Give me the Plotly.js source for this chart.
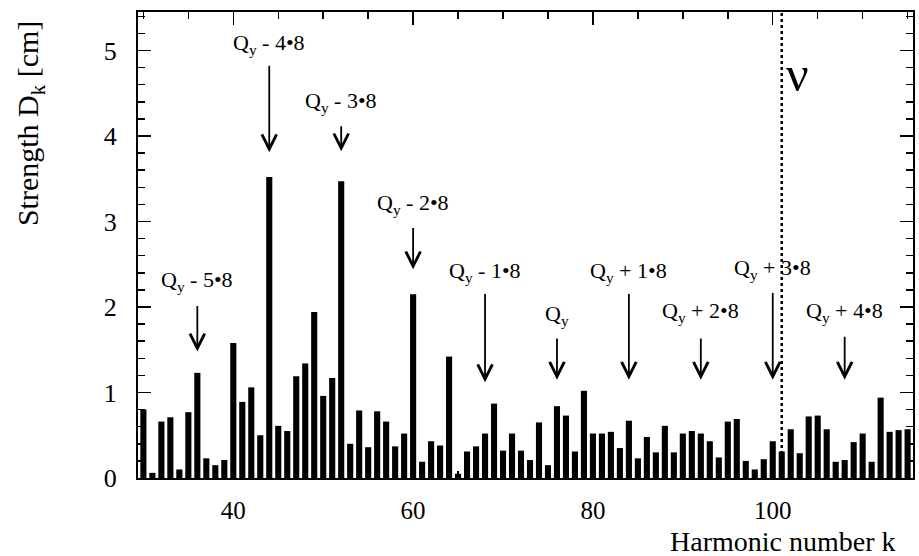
<!DOCTYPE html>
<html>
<head>
<meta charset="utf-8">
<script src="https://cdn.plot.ly/plotly-3.0.1.min.js"></script>
<style>html,body{margin:0;padding:0;background:#fff;}#chart{width:919px;height:556px;}</style>
</head>
<body>
<div id="chart"></div>
<script>
// Harmonic numbers k and strengths D_k [cm]
const harmonicK = [30,31,32,33,34,35,36,37,38,39,40,41,42,43,44,45,46,47,48,49,
  50,51,52,53,54,55,56,57,58,59,60,61,62,63,64,65,66,67,68,69,
  70,71,72,73,74,75,76,77,78,79,80,81,82,83,84,85,86,87,88,89,
  90,91,92,93,94,95,96,97,98,99,100,101,102,103,104,105,106,107,108,109,
  110,111,112,113,114,115];
const strength = [0.80,0.06,0.66,0.71,0.10,0.77,1.23,0.23,0.15,0.21,
  1.58,0.89,1.06,0.50,3.52,0.61,0.55,1.19,1.34,1.94,
  0.96,1.17,3.47,0.40,0.79,0.36,0.78,0.66,0.37,0.52,
  2.15,0.19,0.43,0.38,1.42,0.05,0.31,0.37,0.52,0.87,
  0.32,0.52,0.32,0.21,0.65,0.15,0.84,0.73,0.31,1.02,
  0.52,0.52,0.54,0.35,0.67,0.23,0.48,0.30,0.61,0.30,
  0.52,0.55,0.52,0.43,0.24,0.66,0.69,0.20,0.10,0.22,
  0.43,0.31,0.57,0.29,0.72,0.73,0.57,0.19,0.21,0.42,
  0.52,0.19,0.94,0.54,0.56,0.57];

// Resonance labels (Q_y ± n·8) and their harmonic numbers
const resonanceLabels = ['Q<sub>y</sub> - 5•8','Q<sub>y</sub> - 4•8','Q<sub>y</sub> - 3•8','Q<sub>y</sub> - 2•8',
  'Q<sub>y</sub> - 1•8','Q<sub>y</sub>','Q<sub>y</sub> + 1•8','Q<sub>y</sub> + 2•8','Q<sub>y</sub> + 3•8','Q<sub>y</sub> + 4•8'];
const resonanceK = [36,44,52,60,68,76,84,92,100,108];
const nuK = 101;
const tickVals = [40,60,80,100];

// annotation placement (layout only): [label y, arrow tail y, arrow tip y]
const place = [[2.30,2.03,1.48],[5.07,4.84,3.81],[4.40,4.13,3.82],[3.20,2.94,2.44],
  [2.41,2.17,1.12],[1.91,1.65,1.15],[2.41,2.17,1.15],[1.94,1.65,1.15],[2.44,2.18,1.15],[1.94,1.67,1.15]];

const FONT = 'Liberation Serif';
const annotations = [];
resonanceK.forEach((k,i)=>{
  annotations.push({x:k, y:place[i][0], xref:'x', yref:'y', text:resonanceLabels[i], showarrow:false,
    font:{family:FONT, size:22, color:'#000'}, xanchor:'center', yanchor:'middle'});
  annotations.push({x:k, y:place[i][2], ax:k, ay:place[i][1], xref:'x', yref:'y', axref:'x', ayref:'y',
    text:'', showarrow:true, arrowhead:5, arrowsize:1.6, arrowwidth:1.8, arrowcolor:'#000'});
});
annotations.push({x:102.8, y:4.72, xref:'x', yref:'y', text:'ν', showarrow:false,
  xanchor:'center', yanchor:'middle', font:{family:FONT, size:50, color:'#000'}});
annotations.push({x:-0.139, y:0.76, xref:'paper', yref:'paper', text:'Strength D<sub>k</sub> [cm]',
  xanchor:'center', yanchor:'middle',
  textangle:-90, showarrow:false, font:{family:FONT, size:30, color:'#000'}});
annotations.push({x:0.832, y:-0.136, xref:'paper', yref:'paper', text:'Harmonic number k',
  xanchor:'center', yanchor:'middle',
  showarrow:false, font:{family:FONT, size:28, color:'#000'}});

const trace = {type:'bar', x:harmonicK, y:strength, width:0.68,
  marker:{color:'#000', line:{width:0}}};

const layout = {
  width:919, height:556,
  margin:{l:138, r:6, t:12, b:78},
  paper_bgcolor:'#fff', plot_bgcolor:'#fff',
  showlegend:false,
  font:{family:FONT, color:'#000'},
  xaxis:{range:[29.4,115.6], tickvals:tickVals, ticks:'inside', ticklen:13, tickwidth:1.5,
    tickcolor:'#000', mirror:'allticks', showline:true, linewidth:2, linecolor:'#000',
    showgrid:false, zeroline:false, tickfont:{family:FONT, size:25, color:'#000'},
    ticklabelstandoff:9,
    minor:{dtick:5, tick0:0, ticks:'inside', ticklen:7, tickwidth:1.5, tickcolor:'#000', showgrid:false}},
  yaxis:{range:[0,5.45], dtick:1, ticks:'inside', ticklen:13, tickwidth:1.5, tickcolor:'#000',
    mirror:'allticks', showline:true, linewidth:2, linecolor:'#000', showgrid:false, zeroline:false,
    tickfont:{family:FONT, size:26, color:'#000'}, ticklabelstandoff:14,
    minor:{dtick:0.2, ticks:'inside', ticklen:7, tickwidth:1.5, tickcolor:'#000', showgrid:false}},
  shapes:[{type:'line', xref:'x', yref:'paper', x0:nuK, x1:nuK, y0:0, y1:1,
    line:{color:'#000', width:2.5, dash:'dot'}}],
  annotations:annotations
};
Plotly.newPlot('chart',[trace],layout,{displayModeBar:false, staticPlot:true});
</script>
</body>
</html>
